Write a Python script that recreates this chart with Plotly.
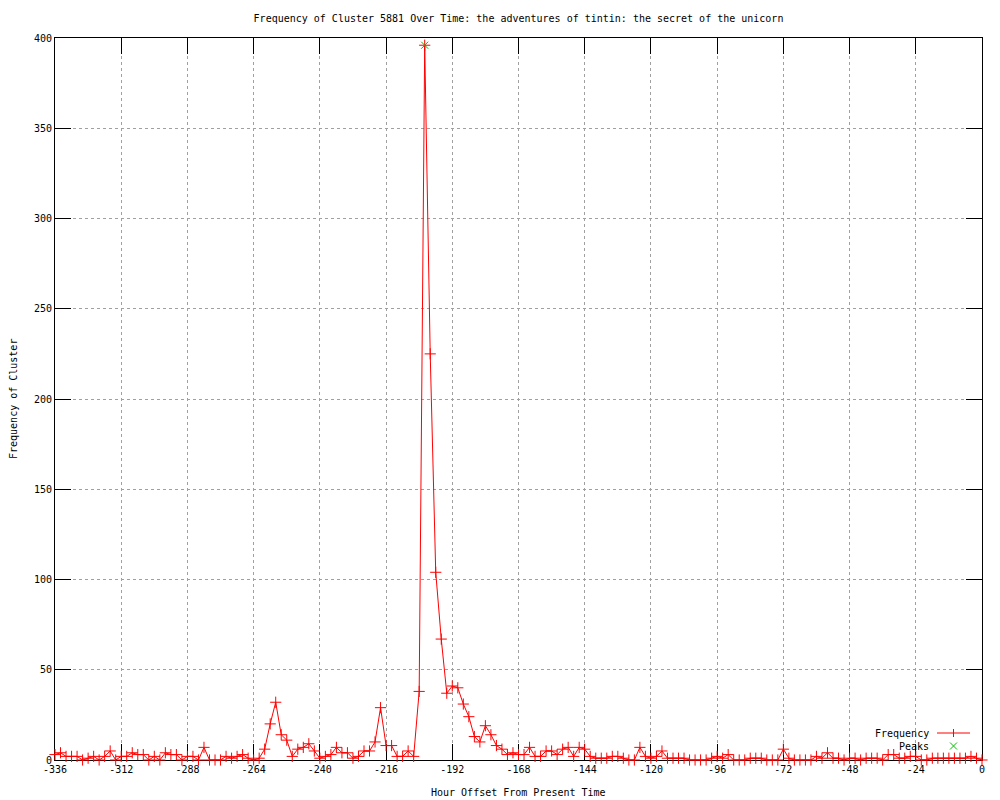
import plotly.graph_objects as go

# Hour offsets (2-hour bins) and frequencies
hours = list(range(-336, 1, 2))
freq = [
    # -336 .. -252
    3, 4, 2, 2, 2, 0, 1, 2, 0, 2, 5, 0, 2, 2, 4, 3, 3, 0, 2, 0, 4, 3, 3, 0, 2, 2, 0, 7, 0, 0, 0, 2, 1, 2, 3, 1, 0, 1, 6, 20, 32, 14, 11,
    # -250 .. -168
    2, 6, 7, 9, 5, 1, 2, 3, 7, 4, 4, 1, 2, 5, 5, 10, 29, 8, 8, 2, 2, 5, 2, 38, 396, 225, 104, 67, 37, 41, 40, 31, 24, 13, 10, 19, 14, 8, 6, 3, 4, 3,
    # -166 .. -86
    3, 7, 2, 2, 5, 5, 3, 6, 7, 2, 7, 6, 2, 1, 1, 1, 2, 2, 1, 0, 0, 7, 2, 1, 2, 5, 1, 1, 1, 1, 0, 0, 0, 0, 1, 2, 1, 3, 0, 0, 0,
    # -84 .. 0
    1, 1, 1, 0, 0, 0, 6, 1, 0, 0, 0, 0, 2, 1, 4, 1, 1, 0, 1, 1, 0, 1, 1, 1, 0, 3, 3, 1, 1, 2, 2, 0, 0, 1, 1, 1, 1, 1, 1, 1, 2, 1, 0,
]
assert len(freq) == len(hours)

peak_hours = [-202]
peak_freq = [396]

x_ticks = list(range(-336, 1, 24))
y_ticks = list(range(0, 401, 50))

title_text = "Frequency of Cluster 5881 Over Time: the adventures of tintin: the secret of the unicorn"
x_title = "Hour Offset From Present Time"
y_title = "Frequency of Cluster"

FONT = "DejaVu Sans Mono"
RED = "#ff0000"
GREEN = "#00c000"

fig = go.Figure()
fig.add_trace(go.Scatter(
    x=hours, y=freq, mode="lines+markers", name="Frequency",
    line=dict(color=RED, width=1),
    marker=dict(symbol="cross-thin", size=8, line=dict(color=RED, width=1), color=RED),
    showlegend=False, hoverinfo="skip", cliponaxis=False,
))
fig.add_trace(go.Scatter(
    x=peak_hours, y=peak_freq, mode="markers", name="Peaks",
    marker=dict(symbol="x-thin", size=7, line=dict(color=GREEN, width=1), color=GREEN),
    showlegend=False, hoverinfo="skip", cliponaxis=False,
))

axis_common = dict(
    showline=True, linecolor="black", linewidth=1, mirror="ticks",
    ticks="inside", ticklen=16, tickwidth=1, tickcolor="black",
    showgrid=True, gridcolor="#a0a0a0", griddash="dot", gridwidth=1,
    zeroline=False, tickfont=dict(family=FONT, size=10, color="black"),
    layer="below traces",
)

fig.update_xaxes(range=[-336, 0], tickvals=x_ticks, ticktext=[str(v) for v in x_ticks], **axis_common)
fig.update_yaxes(range=[0, 400], tickvals=y_ticks, ticktext=[str(v) for v in y_ticks], **axis_common)

# Manual gnuplot-style legend (text right-aligned, sample to the right)
def px(xp):
    return (xp - 55) / 927.0

def py(yp):
    return (760 - yp) / 722.0

annotations = [
    dict(text=x_title, xref="paper", yref="paper", x=0.5, y=py(793), showarrow=False,
         font=dict(family=FONT, size=10, color="black"), xanchor="center", yanchor="middle"),
    dict(text=y_title, xref="paper", yref="paper", x=px(13), y=0.5, showarrow=False, textangle=-90,
         font=dict(family=FONT, size=10, color="black"), xanchor="center", yanchor="middle"),
    dict(text="Frequency", xref="paper", yref="paper", x=px(931), y=py(733), showarrow=False,
         font=dict(family=FONT, size=10, color="black"), xanchor="right", yanchor="middle"),
    dict(text="Peaks", xref="paper", yref="paper", x=px(931), y=py(746), showarrow=False,
         font=dict(family=FONT, size=10, color="black"), xanchor="right", yanchor="middle"),
]

shapes = [
    dict(type="line", xref="paper", yref="paper", x0=px(937), x1=px(970), y0=py(733), y1=py(733),
         line=dict(color=RED, width=1)),
    dict(type="line", xref="paper", yref="paper", x0=px(953.5), x1=px(953.5), y0=py(729), y1=py(737),
         line=dict(color=RED, width=1)),
    dict(type="line", xref="paper", yref="paper", x0=px(950), x1=px(957), y0=py(742.5), y1=py(749.5),
         line=dict(color=GREEN, width=1)),
    dict(type="line", xref="paper", yref="paper", x0=px(950), x1=px(957), y0=py(749.5), y1=py(742.5),
         line=dict(color=GREEN, width=1)),
]

fig.update_layout(
    width=1000, height=800,
    margin=dict(l=55, r=18, t=38, b=40),
    paper_bgcolor="white", plot_bgcolor="white",
    title=dict(text=title_text, x=0.5, xref="paper", y=1 - 18 / 800, yref="container",
               xanchor="center", yanchor="middle",
               font=dict(family=FONT, size=10, color="black")),
    annotations=annotations, shapes=shapes,
    showlegend=False, hovermode=False,
)

fig.write_html(
    "out.html",
    config={"displayModeBar": False, "staticPlot": True},
    post_script="document.body.style.margin='0';document.body.style.padding='0';document.body.style.overflow='hidden';",
)
